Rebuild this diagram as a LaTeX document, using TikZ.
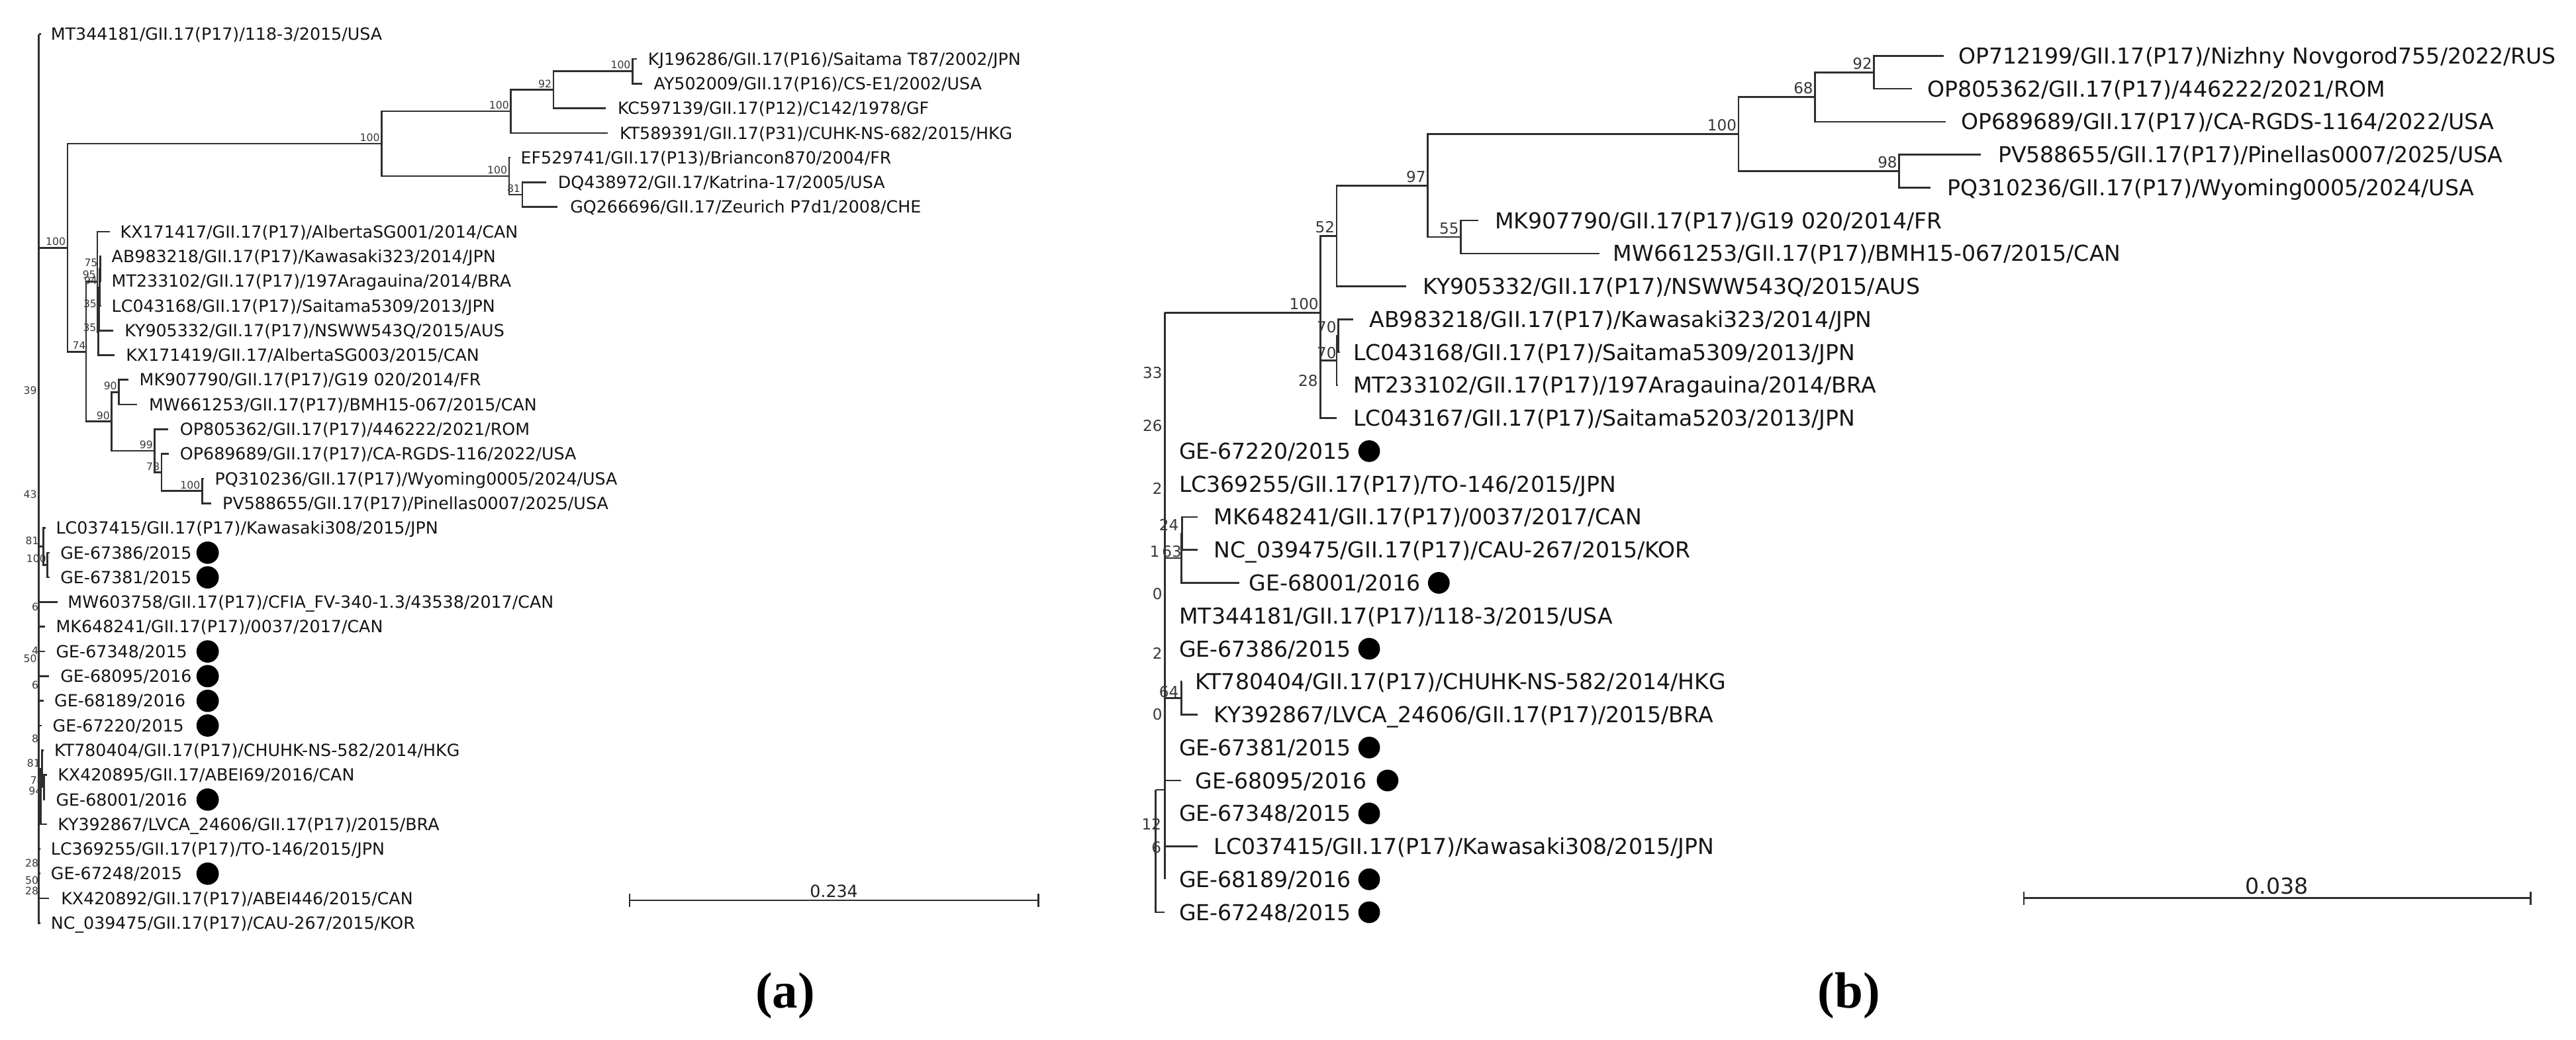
\documentclass[tikz,border=0pt]{standalone}
\usepackage{fontspec}
\newfontfamily\dv{DejaVu Sans}
\newfontfamily\tms{Liberation Serif}
\begin{document}
\begin{tikzpicture}[x=1pt,y=-1pt]
\tikzset{
  br/.style={draw=black!82, line width=1.05pt},
  la/.style={font=\dv\fontsize{10.2}{12}\selectfont, anchor=west, inner sep=0pt, text height=7.4pt, text depth=0pt, text=black!92},
  lb/.style={font=\dv\fontsize{13.35}{15}\selectfont, anchor=west, inner sep=0pt, text height=9.7pt, text depth=0pt, text=black!92},
  bsa/.style={font=\dv\fontsize{6.3}{7}\selectfont, anchor=east, inner sep=0pt, text height=4.6pt, text depth=0pt, text=black!78},
  bsb/.style={font=\dv\fontsize{9.3}{10}\selectfont, anchor=east, inner sep=0pt, text height=6.8pt, text depth=0pt, text=black!78},
  dota/.style={circle, fill=black, inner sep=0pt, minimum size=13.6pt},
  dotb/.style={circle, fill=black, inner sep=0pt, minimum size=13.2pt},
  pan/.style={font=\tms\bfseries\fontsize{31}{34}\selectfont, inner sep=0pt, text=black},
}
\useasboundingbox (0,0) rectangle (1568,633);

% ================= panel (a) =================
\coordinate (aRtop) at (23.6,20.8);
\coordinate (aRbot) at (23.6,561.9);
\draw[br] (aRtop) -- (aRbot);
\coordinate (aA) at (41.1,150.8);
\coordinate (aB) at (232.3,87.5);
\coordinate (aC) at (311,67.77);
\coordinate (aD) at (336.9,54.62);
\coordinate (aE) at (385,43.35);
\coordinate (aF) at (309.9,107.2);
\coordinate (aG) at (317.9,118.5);
\coordinate (aH) at (52.4,214.1);
\coordinate (aI) at (59.2,171.55);
\coordinate (ae) at (59.8,202.1);
\coordinate (ad) at (60.2,188);
\coordinate (ab) at (60.6,174.9);
\coordinate (aa) at (61,163.6);
\coordinate (aJ) at (67.8,256.6);
\coordinate (aK) at (72.4,238.7);
\coordinate (aL) at (94.2,274.4);
\coordinate (aM) at (98.3,287.6);
\coordinate (aN) at (123,298.86);
\coordinate (aY) at (26.3,332.7);
\coordinate (aX) at (28.8,343.9);
\coordinate (a94) at (24.7,484.8);
\coordinate (a81) at (25.7,467.9);
\coordinate (a74) at (26.7,479.2);
\coordinate (aRA) at (23.6,150.8);
\coordinate (aRY) at (23.6,332.7);
\coordinate (aR94) at (23.6,484.8);
\draw[br] (aRA) -- (aA);
\draw[br] (aA) |- (aB);
\draw[br] (aB) |- (aC);
\draw[br] (aC) |- (aD);
\draw[br] (aD) |- (aE);
\draw[br] (aB) |- (aF);
\draw[br] (aF) |- (aG);
\draw[br] (aA) |- (aH);
\draw[br] (aH) |- (aI);
\draw[br] (aI) |- (ae);
\draw[br] (ae) |- (ad);
\draw[br] (ad) |- (ab);
\draw[br] (ab) |- (aa);
\draw[br] (aH) |- (aJ);
\draw[br] (aJ) |- (aK);
\draw[br] (aJ) |- (aL);
\draw[br] (aL) |- (aM);
\draw[br] (aM) |- (aN);
\draw[br] (aRY) -- (aY);
\draw[br] (aY) |- (aX);
\draw[br] (aR94) -- (a94);
\draw[br] (a94) |- (a81);
\draw[br] (a81) |- (a74);

\foreach \nm/\pp/\tx/\yy/\lx/\txt in {
  l1/aRtop/24.8/20.8/30.8/{MT344181/GII.17(P17)/118-3/2015/USA},
  l2/aE/387.5/35.83/394.3/{KJ196286/GII.17(P16)/Saitama T87/2002/JPN},
  l3/aE/390.8/50.86/397.8/{AY502009/GII.17(P16)/CS-E1/2002/USA},
  l4/aD/368.8/65.89/375.8/{KC597139/GII.17(P12)/C142/1978/GF},
  l5/aC/370/80.92/377/{KT589391/GII.17(P31)/CUHK-NS-682/2015/HKG},
  l6/aF/310.5/95.95/316.8/{EF529741/GII.17(P13)/Briancon870/2004/FR},
  l7/aG/332.5/110.98/339.5/{DQ438972/GII.17/Katrina-17/2005/USA},
  l8/aG/339.5/126.01/346.9/{GQ266696/GII.17/Zeurich P7d1/2008/CHE},
  l9/aI/66.8/141.04/73/{KX171417/GII.17(P17)/AlbertaSG001/2014/CAN},
  l10/aa/61.8/156.07/67.8/{AB983218/GII.17(P17)/Kawasaki323/2014/JPN},
  l11/aa/61.8/171.1/67.8/{MT233102/GII.17(P17)/197Aragauina/2014/BRA},
  l12/ab/61.8/186.13/67.8/{LC043168/GII.17(P17)/Saitama5309/2013/JPN},
  l13/ad/68.9/201.16/75.7/{KY905332/GII.17(P17)/NSWW543Q/2015/AUS},
  l14/ae/69.9/216.19/76.5/{KX171419/GII.17/AlbertaSG003/2015/CAN},
  l15/aK/78.1/231.22/84.7/{MK907790/GII.17(P17)/G19 020/2014/FR},
  l16/aK/83.3/246.25/90.5/{MW661253/GII.17(P17)/BMH15-067/2015/CAN},
  l17/aL/102.2/261.28/109.4/{OP805362/GII.17(P17)/446222/2021/ROM},
  l18/aM/102.8/276.31/109.4/{OP689689/GII.17(P17)/CA-RGDS-116/2022/USA},
  l19/aN/124/291.34/130.6/{PQ310236/GII.17(P17)/Wyoming0005/2024/USA},
  l20/aN/128.5/306.37/135.3/{PV588655/GII.17(P17)/Pinellas0007/2025/USA},
  l21/aY/27.7/321.4/33.9/{LC037415/GII.17(P17)/Kawasaki308/2015/JPN},
  l22/aX/30.4/336.43/36.6/{GE-67386/2015},
  l23/aX/30.4/351.46/36.6/{GE-67381/2015},
  l24/aRtop/34.9/366.49/41.1/{MW603758/GII.17(P17)/CFIA\_FV-340-1.3/43538/2017/CAN},
  l25/aRtop/27.5/381.52/33.9/{MK648241/GII.17(P17)/0037/2017/CAN},
  l26/aRtop/27.5/396.55/33.9/{GE-67348/2015},
  l27/aRtop/29.8/411.58/36.6/{GE-68095/2016},
  l28/aRtop/26.5/426.61/32.9/{GE-68189/2016},
  l29/aRtop/25.5/441.64/31.9/{GE-67220/2015},
  l30/a81/26.5/456.67/32.9/{KT780404/GII.17(P17)/CHUHK-NS-582/2014/HKG},
  l31/a74/28.5/471.7/35/{KX420895/GII.17/ABEI69/2016/CAN},
  l32/a74/27.5/486.73/33.9/{GE-68001/2016},
  l33/a94/28.5/501.76/35/{KY392867/LVCA\_24606/GII.17(P17)/2015/BRA},
  l34/aRtop/24.5/516.79/30.8/{LC369255/GII.17(P17)/TO-146/2015/JPN},
  l35/aRtop/24.5/531.82/30.8/{GE-67248/2015},
  l36/aRtop/29.8/546.85/37/{KX420892/GII.17(P17)/ABEI446/2015/CAN},
  l37/aRtop/24.5/561.88/30.8/{NC\_039475/GII.17(P17)/CAU-267/2015/KOR}}{
  \coordinate (t\nm) at (\tx,\yy);
  \node[la] (n\nm) at (\lx,\yy) {\txt};
  \draw[br] (\pp) |- (t\nm);
}
\foreach \nm/\yy in {d22/336.43,d23/351.46,d26/396.55,d27/411.58,d28/426.61,d29/441.64,d32/486.73,d35/531.82}{
  \node[dota] (a\nm) at (126.4,\yy) {};
}
\foreach \nm/\xx/\yy/\v in {
  bA/40.1/147.1/100, bB/231.3/83.9/100, bC/310/64/100, bD/335.9/50.9/92, bE/384/39.6/100,
  bF/308.9/103.5/100, bG/316.9/114.8/81, bH/52.4/210.2/74, bI/58.5/167.2/95, ba/59.6/159.8/75,
  bb/59.4/170.6/94, bd/59/185/35, be/58.8/199.5/35, bJ/67/253/90, bK/71.4/235/90,
  bL/93.2/270.7/99, bM/97.3/284/78, bN/122/295.3/100,
  r1/22.6/237.8/39, r2/22.6/300.9/43, r3/23.8/329.1/81, r4/28.3/340.2/100, r5/23.6/369.4/6,
  r6/23.6/395.9/4, r7/22.6/400.8/50, r8/23.6/417/6, r9/23.6/449.6/8, r10/24.7/464.5/81,
  r11/26.7/475/74, r12/25.7/481.4/94, r13/23.6/525.3/28, r14/23.6/535.9/50, r15/23.6/542.2/28}{
  \node[bsa] (a\nm) at (\xx,\yy) {\v};
}
\coordinate (sa1) at (383.3,548);
\coordinate (sa2) at (632,548);
\draw[br] (sa1) -- (sa2);
\draw[br] ([yshift=-4pt]sa1) -- ([yshift=4pt]sa1);
\draw[br] ([yshift=-4pt]sa2) -- ([yshift=4pt]sa2);
\node[font=\dv\fontsize{10.2}{12}\selectfont, inner sep=0pt, anchor=south, text=black!88] (sal) at (507.6,546.5) {0.234};
\node[pan] (pa) at (478,606) {(a)};

% ================= panel (b) =================
\coordinate (bRtop) at (709,190.33);
\coordinate (bRbot) at (709,535.25);
\draw[br] (bRtop) -- (bRbot);
\coordinate (b100r) at (803.8,190.33);
\coordinate (b52) at (813.6,143.65);
\coordinate (b97) at (869,112.95);
\coordinate (b100u) at (1058.2,81.62);
\coordinate (b68) at (1104.8,59.06);
\coordinate (b92) at (1140.7,44.03);
\coordinate (b98) at (1156,104.18);
\coordinate (b55) at (889.2,144.28);
\coordinate (b28) at (803.8,237.0);
\coordinate (b70b) at (813.6,219.46);
\coordinate (b70a) at (814.5,204.43);
\coordinate (b63) at (719,339.76);
\coordinate (b24) at (719.4,324.73);
\coordinate (b64) at (719,425);
\coordinate (b12a) at (703.4,480.8);
\coordinate (bR12) at (709,480.8);
\coordinate (bR63) at (709,339.76);
\coordinate (bR64) at (709,425);
\draw[br] (bRtop) -- (b100r);
\draw[br] (b100r) |- (b52);
\draw[br] (b52) |- (b97);
\draw[br] (b97) |- (b100u);
\draw[br] (b100u) |- (b68);
\draw[br] (b68) |- (b92);
\draw[br] (b100u) |- (b98);
\draw[br] (b97) |- (b55);
\draw[br] (b100r) |- (b28);
\draw[br] (b28) |- (b70b);
\draw[br] (b70b) |- (b70a);
\draw[br] (bR63) -- (b63);
\draw[br] (b63) |- (b24);
\draw[br] (bR64) -- (b64);
\draw[br] (bR12) -- (b12a);
\foreach \nm/\pp/\tx/\yy/\lx/\txt in {
  m1/b92/1183/34/1192/{OP712199/GII.17(P17)/Nizhny Novgorod755/2022/RUS},
  m2/b92/1163.9/54.05/1173/{OP805362/GII.17(P17)/446222/2021/ROM},
  m3/b68/1184.3/74.1/1193.6/{OP689689/GII.17(P17)/CA-RGDS-1164/2022/USA},
  m4/b98/1205.8/94.15/1216/{PV588655/GII.17(P17)/Pinellas0007/2025/USA},
  m5/b98/1175.2/114.2/1185.3/{PQ310236/GII.17(P17)/Wyoming0005/2024/USA},
  m6/b55/900/134.25/909.8/{MK907790/GII.17(P17)/G19 020/2014/FR},
  m7/b55/973.4/154.3/981.8/{MW661253/GII.17(P17)/BMH15-067/2015/CAN},
  m8/b52/856/174.35/866/{KY905332/GII.17(P17)/NSWW543Q/2015/AUS},
  m9/b70a/823.5/194.4/833.4/{AB983218/GII.17(P17)/Kawasaki323/2014/JPN},
  m10/b70a/815.5/214.45/823.5/{LC043168/GII.17(P17)/Saitama5309/2013/JPN},
  m11/b70b/814.5/234.5/823.5/{MT233102/GII.17(P17)/197Aragauina/2014/BRA},
  m12/b28/813.6/254.55/823.5/{LC043167/GII.17(P17)/Saitama5203/2013/JPN},
  m13/bRtop/709/274.6/717.6/{GE-67220/2015},
  m14/bRtop/709/294.65/717.6/{LC369255/GII.17(P17)/TO-146/2015/JPN},
  m15/b24/729/314.7/738.7/{MK648241/GII.17(P17)/0037/2017/CAN},
  m16/b24/729/334.75/738.7/{NC\_039475/GII.17(P17)/CAU-267/2015/KOR},
  m17/b63/754.5/354.8/760/{GE-68001/2016},
  m18/bRtop/709/374.85/717.6/{MT344181/GII.17(P17)/118-3/2015/USA},
  m19/bRtop/709/394.9/717.6/{GE-67386/2015},
  m20/b64/719.5/414.95/727.4/{KT780404/GII.17(P17)/CHUHK-NS-582/2014/HKG},
  m21/b64/729/435/738.7/{KY392867/LVCA\_24606/GII.17(P17)/2015/BRA},
  m22/bRtop/709/455.05/717.6/{GE-67381/2015},
  m23/bRtop/719/475.1/727.4/{GE-68095/2016},
  m24/bRtop/709/495.15/717.6/{GE-67348/2015},
  m25/bRtop/729/515.2/738.7/{LC037415/GII.17(P17)/Kawasaki308/2015/JPN},
  m26/bRtop/709/535.25/717.6/{GE-68189/2016},
  m27/b12a/709/555.3/717.6/{GE-67248/2015}}{
  \coordinate (t\nm) at (\tx,\yy);
  \node[lb] (n\nm) at (\lx,\yy) {\txt};
  \draw[br] (\pp) |- (t\nm);
}
\foreach \nm/\xx/\yy in {e13/833.4/274.6,e17/875.8/354.8,e19/833.4/394.9,e22/833.4/455.05,e23/844.6/475.1,e24/833.4/495.15,e26/833.4/535.25,e27/833.4/555.3}{
  \node[dotb] (b\nm) at (\xx,\yy) {};
}
\foreach \nm/\xx/\yy/\v in {
  c100r/802.8/185/100, c52/812.6/138.4/52, c97/868/107.7/97, c100u/1057.2/76.3/100,
  c68/1103.8/53.8/68, c92/1139.7/38.7/92, c98/1155/98.9/98, c55/888.2/139/55,
  c70a/813.6/199.1/70, c70b/813.6/214.9/70, c28/802.3/231.7/28,
  s1/707.6/227/33, s2/707.6/259/26, s3/707.6/297.5/2, s4/717.6/319.6/24, s5/706/335.8/1,
  s6/719.4/335.8/63, s7/707.6/361.4/0, s8/707.6/397.6/2, s9/717.6/421/64, s10/707.6/435/0,
  s11/707/501.7/12, s12/707/515.8/6}{
  \node[bsb] (b\nm) at (\xx,\yy) {\v};
}
\coordinate (sb1) at (1231.9,546.7);
\coordinate (sb2) at (1540.4,546.7);
\draw[br] (sb1) -- (sb2);
\draw[br] ([yshift=-4pt]sb1) -- ([yshift=4pt]sb1);
\draw[br] ([yshift=-4pt]sb2) -- ([yshift=4pt]sb2);
\node[font=\dv\fontsize{13.4}{15}\selectfont, inner sep=0pt, anchor=south, text=black!88] (sbl) at (1386,544.5) {0.038};
\node[pan] (pb) at (1125.5,606) {(b)};
\end{tikzpicture}
\end{document}
